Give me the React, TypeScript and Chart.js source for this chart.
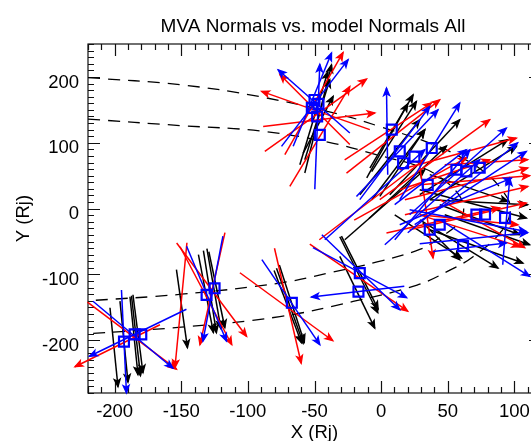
import React, { useEffect, useRef } from "react";
import { Chart, registerables } from "chart.js";

Chart.register(...registerables);

// ---------- text ----------
const TITLE = "MVA Normals vs. model Normals All";
const X_TITLE = "X (Rj)";
const Y_TITLE = "Y (Rj)";

// ---------- axes ----------
const X_MIN = -220;
const X_MAX = 120;
const Y_MIN = -280;
const Y_MAX = 250;
const X_TICK_LABELS = [-200, -150, -100, -50, 0, 50, 100];
const Y_TICK_LABELS = [-200, -100, 0, 100, 200];
const X_MINOR_STEP = 10;
const Y_MINOR_STEP = 10;

// ---------- model boundaries (dashed) ----------
const outerBoundaryX = [-220, -150, -91, -31, 0, 36, 58, 76, 90, 97, 90, 69, 52, 27, -21, -76, -150, -220];
const outerBoundaryY = [199, 188, 170, 143, 124, 100, 80, 58, 30, 0, -35, -73, -93, -116, -141, -164, -180, -190];
const innerBoundaryX = [-220, -150, -91, -40, 0, 30, 46, 58, 62, 58, 42, 29, -3, -40, -76, -150, -220];
const innerBoundaryY = [136, 126, 118, 101, 80, 63, 45, 22, 0, -22, -47, -62, -81, -98, -113, -130, -140];

// ---------- spacecraft positions (blue squares) ----------
const positionX = [-193, -185, -180, -131, -125, -67, -16, -17, -50, -52, -48, -46, -47, 8, 14, 16.5, 25, 38, 35, 64, 74, 56.5, 71.5, 78, 93, 36.5, 44, 61.5];
const positionY = [-202, -191, -191, -131, -121, -143, -98, -126, 165, 153, 140, 112, 159, 120, 87, 69, 79, 92, 36, 56.5, 62, 59, -9, -9, -14, -32, -24.5, -57];

// ---------- normals: [x, y, nx, ny] (arrow centred on x,y) ----------
const mvaNormals: number[][] = [
  [-200.5, -210.5, 0.064, -0.632], [-193, -202, 0.064, -0.648], [-185.5, -193, 0.064, -0.624],
  [-182.5, -190, 0.08, -0.624], [-184, -193, 0.072, -0.64], [-149.5, -152, 0.088, -0.624],
  [-131.5, -129, 0.12, -0.624], [-125.5, -121.6, 0.112, -0.64], [-123.3, -123.2, 0.128, -0.608],
  [-128.5, -126.2, 0.104, -0.656], [-68.5, -147.5, 0.214, -0.6], [-67, -144.4, 0.2, -0.62],
  [-70, -149, 0.22, -0.58], [-16, -97.3, 0.294, -0.584], [-17.9, -127, 0.28, -0.574],
  [-16.75, -100.4, 0.304, -0.608], [-47.25, 136.2, 0.214, 0.866], [-47.25, 127.4, 0.24, 0.454],
  [-50.5, 137.3, 0.224, 0.744], [-47.9, 135, 0.2, 0.64], [7.8, 117.2, 0.346, 0.586],
  [9.7, 109.5, 0.358, 0.562], [4.6, 103, 0.328, 0.592], [32.75, 78, 0.56, 0.6],
  [15.9, 69.2, 0.36, 0.534], [12.9, 66.7, 0.424, 0.56], [6.5, 78, 0.48, 0.6],
  [69, 54, 0.694, 0.426], [62, 62.9, 0.704, 0.44], [65.9, 31.3, 0.626, -0.214],
  [69, 7.1, 0.854, -0.226], [35.25, -42.2, 0.534, -0.346], [58.4, -53.6, 0.626, -0.386],
  [71.5, -57.4, 0.746, -0.266], [74, -16.9, 0.64, -0.24], [79.6, -32, 0.68, -0.24],
  [45.1, -49.5, 0.296, -0.296], [73.25, 9.7, 0.784, -0.04], [2.75, 5.9, 0.64, 0.56],
  [20, 40, 0.62, 0.58],
];

const modelANormals: number[][] = [
  [-197.9, -208.2, -0.68, -0.336], [-187, -193, 0.712, -0.536], [-150.25, -146.7, -0.096, -1.0],
  [-126.6, -121.6, -0.2, -0.896], [-131.5, -132.3, 0.414, -0.784], [-127.2, -123.2, 0.56, -0.747],
  [-70, -147.5, 0.214, -0.92], [-71.1, -149, 0.744, -0.544], [-16.75, -104.9, 0.784, -0.536],
  [-50.4, 159.5, 0.466, 0.818], [-49.1, 141.8, 0.814, 0.579], [-46, 109.6, 0.48, 0.8],
  [-46.6, 135, 0.894, 0.107], [-49.75, 150.4, -0.56, 0.56], [-49.1, 149, -0.866, 0.306],
  [9, 109.6, 0.746, 0.586], [5.2, 117.2, 0.694, 0.454], [40.25, 74.3, 0.88, 0.64],
  [64, 37.5, 0.984, 0.254], [64, 12.2, 0.984, 0.226], [65.2, -11.8, 0.934, 0.214],
  [65.9, -16.9, 0.786, -0.08], [57.7, 83, 0.934, 0.254], [66.5, -33.6, 0.8, -0.254],
  [34, -5.5, 0.106, -0.734], [47.75, 51.5, 0.72, 0.24], [75.9, -22.9, 0.68, -0.384],
  [70.25, 43.1, 0.88, 0.072], [78.9, 70.5, 0.664, 0.04], [46.5, -17.9, 0.906, 0.202],
  [-7, 13.5, 0.84, 0.64], [22, 30, 0.9, 0.5],
];

const modelBNormals: number[][] = [
  [-193, -201.7, 0.04, -0.824], [-182.5, -188.5, -0.776, -0.376], [-186.25, -191.5, 0.64, -0.536],
  [-126.25, -121.6, -0.16, -0.84], [-131, -129.2, 0.32, -0.76], [-67.75, -142.1, 0.464, -0.68],
  [-17.5, -126.2, -0.744, -0.086], [-15.25, -96.6, 0.624, -0.6], [-16, -97.3, 0.75, -0.4],
  [-51.6, 165.5, 0.307, 0.747], [-49.75, 160.4, 0.533, 0.694], [-50.4, 162.8, -0.574, 0.506],
  [-47.9, 124.4, 0.04, 1.0], [4.5, 117.2, -0.01, 0.694], [12.1, 84.4, 0.653, 0.694],
  [10.25, 84.4, 0.56, 0.746], [36.5, 86.9, 0.48, 0.774], [37.1, 47.7, 0.574, 0.44],
  [57.7, 56.5, 0.774, 0.694], [55.9, 10.9, 0.894, 0.374], [67.1, 31.3, 0.894, 0.586],
  [38.4, 21.1, 0.6, 0.72], [93.9, -19.4, 0.056, 0.694], [65.2, -18.1, 0.934, -0.174],
  [77.75, -59.8, 0.72, -0.454], [69.5, -45, 0.864, 0.088], [66.5, -58.6, 0.587, 0.067],
  [38.4, 9.7, 0.76, 0.68], [61.25, 31.7, 0.88, 0.72], [-4.75, 21.1, 0.8, 0.72],
];

// half-length (data units) of a unit normal along each axis
const NORMAL_HALF_X = 46.9;
const NORMAL_HALF_Y = 94.9;

const FONT = '"Liberation Sans", Arial, Helvetica, sans-serif';

function arrowSets(list: number[][], color: string, order: number) {
  return list.map(([x, y, nx, ny]) => ({
    data: [
      { x: x - nx * NORMAL_HALF_X, y: y - ny * NORMAL_HALF_Y },
      { x: x + nx * NORMAL_HALF_X, y: y + ny * NORMAL_HALF_Y },
    ],
    showLine: true,
    borderColor: color,
    backgroundColor: color,
    borderWidth: 1.5,
    pointRadius: 0,
    clip: false as any,
    order,
    isArrow: true,
  }));
}

function curveSet(xs: number[], ys: number[]) {
  return {
    data: xs.map((x, i) => ({ x, y: ys[i] })),
    showLine: true,
    borderColor: "#000",
    borderWidth: 1.3,
    borderDash: [12, 8],
    pointRadius: 0,
    tension: 0.4,
    order: 10,
  };
}

const axesPlugin = {
  id: "idlAxes",
  beforeDatasetsDraw(chart: any) {
    const ctx = chart.ctx;
    const xs = chart.scales.x;
    const ys = chart.scales.y;
    const { left, right, top, bottom } = chart.chartArea;
    ctx.save();
    ctx.strokeStyle = "#111";
    ctx.lineWidth = 1.2;
    ctx.strokeRect(left, top, right - left, bottom - top);
    ctx.beginPath();
    for (let v = X_MIN; v <= X_MAX; v += X_MINOR_STEP) {
      const px = Math.round(xs.getPixelForValue(v)) + 0.5;
      const len = v % 50 === 0 ? 12 : 6;
      ctx.moveTo(px, bottom);
      ctx.lineTo(px, bottom - len);
      ctx.moveTo(px, top);
      ctx.lineTo(px, top + len);
    }
    for (let v = Y_MIN; v <= Y_MAX; v += Y_MINOR_STEP) {
      const py = Math.round(ys.getPixelForValue(v)) + 0.5;
      const len = v % 100 === 0 ? 12 : 6;
      ctx.moveTo(left, py);
      ctx.lineTo(left + len, py);
      ctx.moveTo(right, py);
      ctx.lineTo(right - len, py);
    }
    ctx.stroke();

    ctx.fillStyle = "#000";
    ctx.font = `18.5px ${FONT}`;
    ctx.textAlign = "center";
    ctx.textBaseline = "alphabetic";
    X_TICK_LABELS.forEach((v) => {
      ctx.fillText(String(v), xs.getPixelForValue(v), bottom + 24);
    });
    ctx.textAlign = "right";
    Y_TICK_LABELS.forEach((v) => {
      ctx.fillText(String(v), left - 9, ys.getPixelForValue(v) + 10.6);
    });

    ctx.textAlign = "center";
    ctx.fillText(X_TITLE, (left + right) / 2, 438);
    ctx.save();
    ctx.translate(28.5, (top + bottom) / 2);
    ctx.rotate(-Math.PI / 2);
    ctx.fillText(Y_TITLE, 0, 0);
    ctx.restore();

    ctx.font = `19px ${FONT}`;
    ctx.fillText(TITLE, 313, 32);
    ctx.restore();
  },
  afterDatasetDraw(chart: any, args: any) {
    const ds = chart.data.datasets[args.index];
    if (!ds || !ds.isArrow) return;
    const pts = args.meta.data;
    if (!pts || pts.length < 2) return;
    const a = pts[0];
    const b = pts[1];
    const ang = Math.atan2(b.y - a.y, b.x - a.x);
    const L = 8;
    const spread = 0.38;
    const ctx = chart.ctx;
    ctx.save();
    ctx.strokeStyle = ds.borderColor;
    ctx.fillStyle = ds.borderColor;
    ctx.lineWidth = 1.3;
    ctx.lineJoin = "miter";
    ctx.beginPath();
    ctx.moveTo(b.x - L * Math.cos(ang - spread), b.y - L * Math.sin(ang - spread));
    ctx.lineTo(b.x, b.y);
    ctx.lineTo(b.x - L * Math.cos(ang + spread), b.y - L * Math.sin(ang + spread));
    ctx.lineTo(b.x - L * 0.7 * Math.cos(ang), b.y - L * 0.7 * Math.sin(ang));
    ctx.closePath();
    ctx.fill();
    ctx.stroke();
    ctx.restore();
  },
};

export default function App() {
  const ref = useRef<HTMLCanvasElement | null>(null);
  useEffect(() => {
    if (!ref.current) return;
    const datasets: any[] = [
      curveSet(outerBoundaryX, outerBoundaryY),
      curveSet(innerBoundaryX, innerBoundaryY),
      ...arrowSets(mvaNormals, "#000000", 5),
      ...arrowSets(modelANormals, "#ff0000", 4),
      ...arrowSets(modelBNormals, "#0000ff", 3),
      {
        data: positionX.map((x, i) => ({ x, y: positionY[i] })),
        showLine: false,
        pointStyle: "rect",
        pointRadius: 7,
        pointBorderWidth: 2.2,
        pointBorderColor: "#0000ff",
        pointBackgroundColor: "rgba(0,0,0,0)",
        clip: false,
        order: -1,
      },
    ];
    const chart = new Chart(ref.current, {
      type: "scatter",
      data: { datasets },
      options: {
        responsive: false,
        animation: false,
        devicePixelRatio: 1,
        events: [],
        layout: { padding: { left: 88, top: 44, right: 19, bottom: 48 } },
        scales: {
          x: { type: "linear", min: X_MIN, max: X_MAX, display: false },
          y: { type: "linear", min: Y_MIN, max: Y_MAX, display: false },
        },
        plugins: { legend: { display: false }, tooltip: { enabled: false } },
      },
      plugins: [axesPlugin],
    } as any);
    return () => chart.destroy();
  }, []);
  return (
    <div
      style={{
        position: "fixed",
        left: 0,
        top: 0,
        width: 531,
        height: 441,
        overflow: "hidden",
        background: "#fff",
      }}
    >
      <canvas ref={ref} width={560} height={441} style={{ display: "block" }} />
    </div>
  );
}
